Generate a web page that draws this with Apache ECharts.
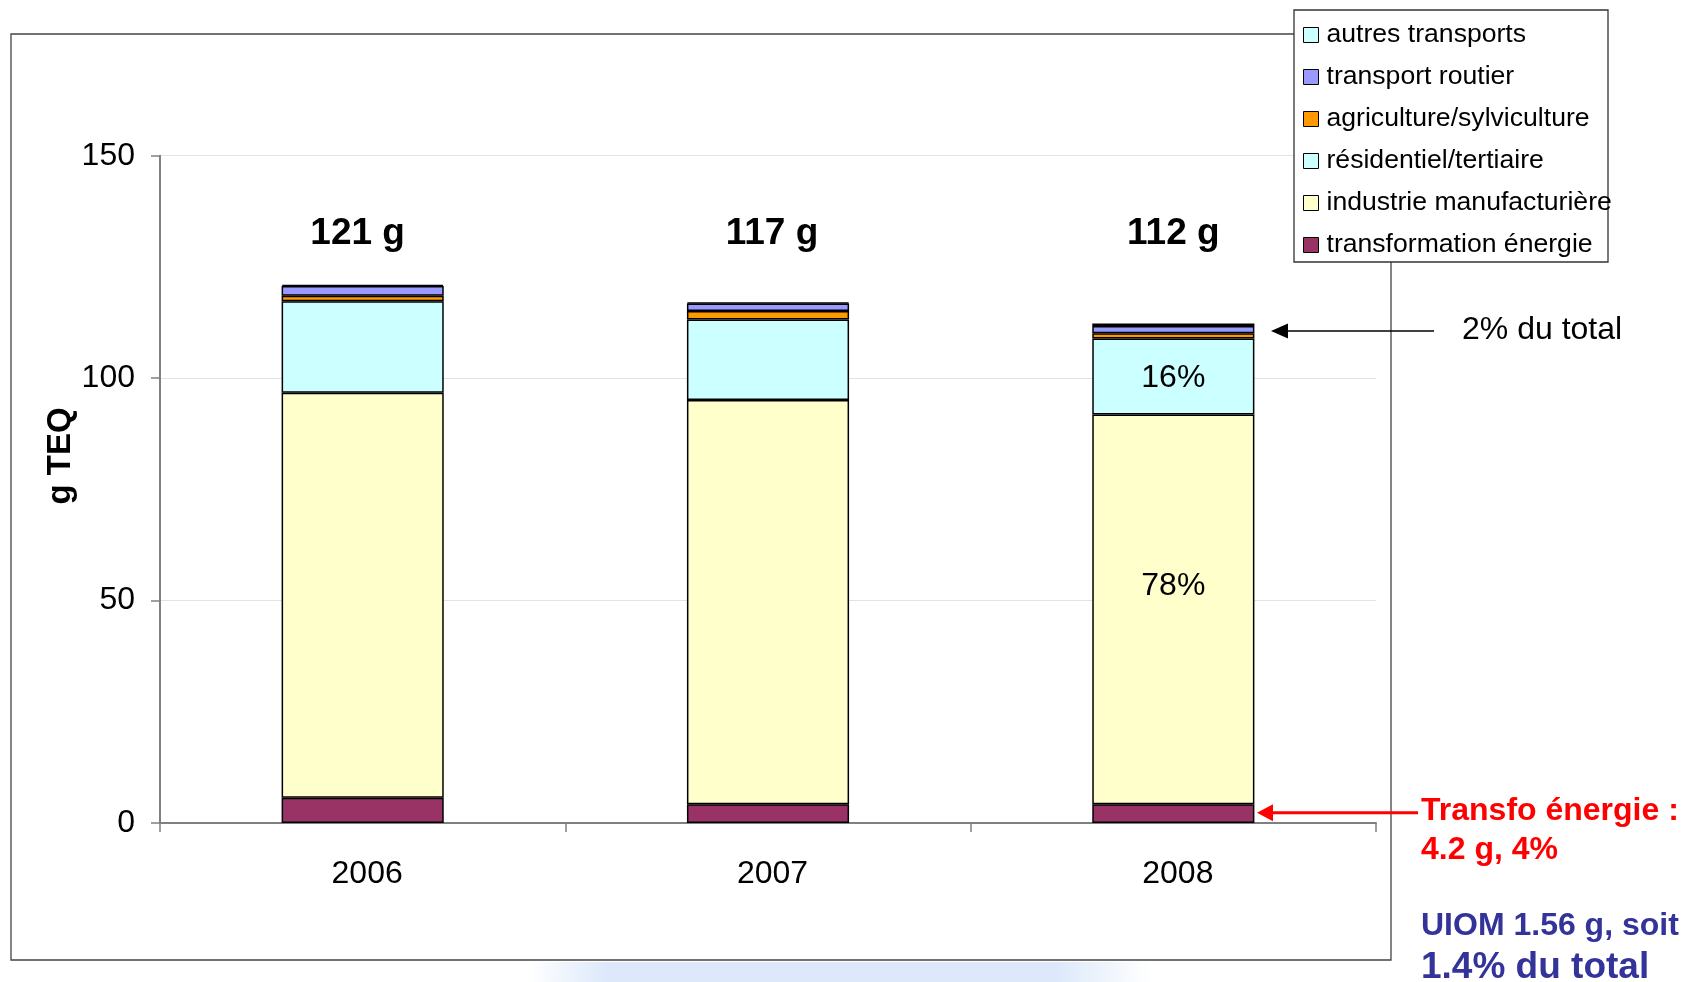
<!DOCTYPE html>
<html><head><meta charset="utf-8">
<script src="https://cdn.jsdelivr.net/npm/echarts@6/dist/echarts.min.js"></script>
<style>html,body{margin:0;padding:0;background:#fff}#c{width:1684px;height:982px}</style>
</head><body><div id="c"></div>
<script>
var FONT = '"Liberation Sans", Arial, sans-serif';
var categories = ['2006', '2007', '2008'];
var transfo = [5.7, 4.2, 4.2];
var industrie = [91.0, 90.9, 87.6];
var residentiel = [20.6, 18.1, 17.1];
var agriculture = [1.2, 1.9, 1.2];
var routier = [2.2, 1.7, 1.6];
var autres = [0.3, 0.2, 0.6];
var totalLabels = ['121 g', '117 g', '112 g'];
var seriesNames = ['transformation énergie', 'industrie manufacturière', 'résidentiel/tertiaire', 'agriculture/sylviculture', 'transport routier', 'autres transports'];
var seriesColors = ['#993366', '#FFFFCC', '#CCFFFF', '#FF9900', '#9999FF', '#CCFFFF'];
var seriesData = [transfo, industrie, residentiel, agriculture, routier, autres];

var chart = echarts.init(document.getElementById('c'));
var series = seriesNames.map(function (n, i) {
  return {
    name: n, type: 'bar', stack: 'total', barWidth: '40%',
    data: seriesData[i],
    itemStyle: { color: seriesColors[i], borderColor: '#000', borderWidth: 1.5 },
    emphasis: { disabled: true }
  };
});
var option = {
  animation: false,
  backgroundColor: '#fff',
  grid: { left: 160, right: 308, top: 155.7, bottom: 159 },
  legend: {
    orient: 'vertical', left: 1303, top: 20, padding: 0, z: 20,
    data: seriesNames.slice().reverse(),
    icon: 'rect', itemWidth: 15, itemHeight: 15, itemGap: 12,
    itemStyle: { borderColor: '#000', borderWidth: 1 },
    textStyle: { fontFamily: FONT, fontSize: 26.6, color: '#000', lineHeight: 30, padding: [0, 0, 0, 3] },
    selectedMode: false
  },
  xAxis: {
    type: 'category', data: categories, boundaryGap: true,
    axisLine: { lineStyle: { color: '#808080', width: 2 } },
    axisTick: { show: true, length: 9, lineStyle: { color: '#808080', width: 1.5 } },
    axisLabel: { fontFamily: FONT, fontSize: 32, color: '#000', margin: 35, padding: [0, 0, 0, 9] }
  },
  yAxis: {
    type: 'value', min: 0, max: 150, interval: 50,
    axisLine: { show: true, lineStyle: { color: '#808080', width: 2 } },
    axisTick: { show: true, length: 9, lineStyle: { color: '#808080', width: 1.5 } },
    axisLabel: { fontFamily: FONT, fontSize: 32, color: '#000', margin: 25 },
    splitLine: { lineStyle: { color: '#e3e3e3', width: 1 } }
  },
  series: series
};
chart.setOption(option);

function px(cat, val) { return chart.convertToPixel({ gridIndex: 0 }, [cat, val]); }
function txt(x, y, s, font, fill, align, extra) {
  var o = { type: 'text', z: 10, x: x, y: y, style: { text: s, font: font, fill: fill, textAlign: align, textVerticalAlign: 'middle', align: align, verticalAlign: 'middle' } };
  if (extra) for (var k in extra) o[k] = extra[k];
  return o;
}
var g = [];
// faint blue glow at bottom
g.push({ type: 'rect', z: 0, shape: { x: 530, y: 962, width: 620, height: 20 }, style: { fill: { type: 'linear', x: 0, y: 0, x2: 1, y2: 0, colorStops: [{ offset: 0, color: 'rgba(221,233,250,0)' }, { offset: 0.12, color: 'rgba(221,233,250,1)' }, { offset: 0.85, color: 'rgba(221,233,250,1)' }, { offset: 1, color: 'rgba(221,233,250,0)' }] } } });
// outer frame
g.push({ type: 'rect', z: 1, shape: { x: 11, y: 34, width: 1380, height: 926 }, style: { fill: 'none', stroke: '#444', lineWidth: 1.3 } });
// legend box
g.push({ type: 'rect', z: 5, shape: { x: 1294, y: 10, width: 314, height: 252 }, style: { fill: '#fff', stroke: '#333', lineWidth: 1.3 } });
// y axis name
g.push(txt(61, 456, 'g TEQ', 'bold 33px ' + FONT, '#000', 'center', { rotation: Math.PI / 2 }));
// totals
var dx = [-5, 4, 0];
categories.forEach(function (c, i) {
  var p = px(c, 132.5);
  g.push(txt(p[0] + dx[i], p[1], totalLabels[i], 'bold 37px ' + FONT, '#000', 'center'));
});
// percentages on 2008
var p16 = px('2008', transfo[2] + industrie[2] + residentiel[2] / 2);
g.push(txt(p16[0], p16[1] + 2, '16%', '32px ' + FONT, '#000', 'center'));
var p78 = px('2008', 54);
g.push(txt(p78[0], p78[1] + 3, '78%', '32px ' + FONT, '#000', 'center'));
// black arrow (2% du total)
var pa = px('2008', 110.6);
var tipB = 1271, yb = pa[1];
g.push({ type: 'line', z: 10, shape: { x1: 1434, y1: yb, x2: tipB + 14, y2: yb }, style: { stroke: '#000', lineWidth: 1.5 } });
g.push({ type: 'polygon', z: 10, shape: { points: [[tipB, yb], [tipB + 17, yb - 7.5], [tipB + 17, yb + 7.5]] }, style: { fill: '#000' } });
g.push(txt(1462, yb - 1, '2% du total', '32px ' + FONT, '#000', 'left'));
// red arrow
var pr = px('2008', transfo[2] / 2);
var tipR = 1257, yr = pr[1] - 1;
g.push({ type: 'line', z: 10, shape: { x1: 1418, y1: yr, x2: tipR + 12, y2: yr }, style: { stroke: '#FF0000', lineWidth: 3 } });
g.push({ type: 'polygon', z: 10, shape: { points: [[tipR, yr], [tipR + 16, yr - 8.5], [tipR + 16, yr + 8.5]] }, style: { fill: '#FF0000' } });
g.push(txt(1421, 811, 'Transfo énergie :', 'bold 32px ' + FONT, '#FF0000', 'left'));
g.push(txt(1421, 850, '4.2 g, 4%', 'bold 32px ' + FONT, '#FF0000', 'left'));
g.push(txt(1421, 926, 'UIOM 1.56 g, soit', 'bold 32px ' + FONT, '#333399', 'left'));
g.push(txt(1421, 968, '1.4% du total', 'bold 37px ' + FONT, '#333399', 'left'));
chart.setOption({ graphic: g });
</script></body></html>
